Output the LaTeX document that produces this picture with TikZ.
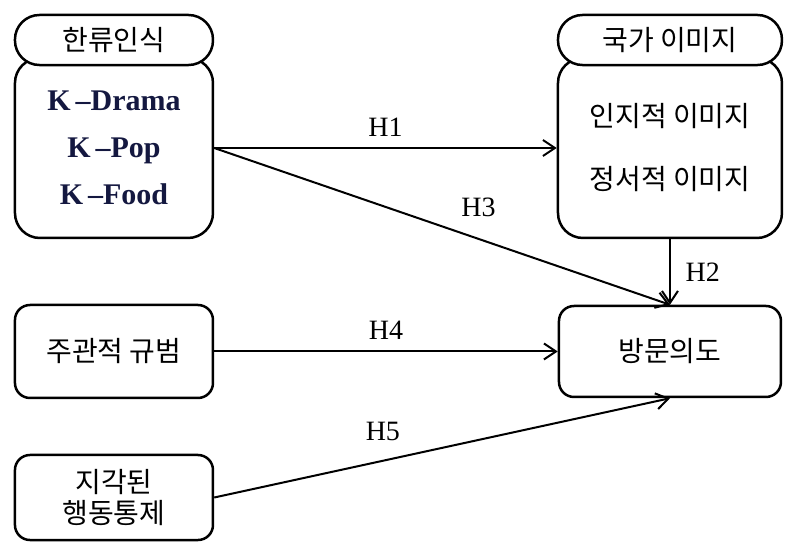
\documentclass[tikz,border=0pt]{standalone}
\usepackage{fontspec}
\setmainfont{Liberation Serif}
\newfontfamily\hangul{Noto Sans CJK KR}
\usepackage{xcolor}
\usetikzlibrary{arrows.meta,positioning}
\definecolor{navytext}{RGB}{20,24,64}

\begin{document}
\begin{tikzpicture}[
    box/.style={rectangle, draw, line width=1.25pt, rounded corners=7.5pt, align=center, font=\hangul\fontsize{14}{17}\selectfont},
    titlecap/.style={box, fill=white, rounded corners=0.43cm, minimum height=0.879cm},
    arrow/.style={-{Straight Barb[length=6pt,width=8pt]}, line width=1pt},
    hlabel/.style={font=\fontsize{14}{16}\selectfont}
]
    \useasboundingbox (0,0) rectangle (13.813,-9.542);

    % Construct bodies
    \node[box, rounded corners=12.5pt, minimum width=3.48cm, minimum height=3.163cm, text=navytext, font=\bfseries\fontsize{15}{23.5}\selectfont] (hallyu) at (2.003,-2.601) {K\,--Drama\\K\,--Pop\\K\,--Food};
    \node[box, rounded corners=12.5pt, minimum width=3.936cm, minimum height=3.163cm, font=\hangul\fontsize{14}{31.5}\selectfont] (image) at (11.774,-2.601) {인지적 이미지\\정서적 이미지};

    % Title capsules on top
    \node[titlecap, minimum width=3.48cm] (hallyucap) at (2.003,-0.703) {한류인식};
    \node[titlecap, minimum width=3.936cm] (imagecap) at (11.774,-0.703) {국가 이미지};

    % Other boxes
    \node[box, minimum width=3.48cm, minimum height=1.634cm] (norm) at (2.003,-6.177) {주관적 규범};
    \node[box, minimum width=3.48cm, minimum height=1.494cm, font=\hangul\fontsize{14}{15.5}\selectfont] (control) at (2.003,-8.743) {지각된\\행동통제};
    \node[box, minimum width=3.901cm, minimum height=1.599cm] (visit) at (11.774,-6.177) {방문의도};

    % Hypotheses
    \draw[arrow] (hallyu.east) -- node[hlabel, above=2pt] {H1} (image.west);
    \draw[arrow] (hallyu.east) -- node[hlabel, pos=0.58, above=7pt] {H3} (visit.north);
    \draw[arrow] (image.south) -- node[hlabel, right=4pt] {H2} (visit.north);
    \draw[arrow] (norm.east) -- node[hlabel, above=2pt] {H4} (visit.west);
    \draw[arrow] (control.east) -- node[hlabel, pos=0.37, above=6pt] {H5} (visit.south);
\end{tikzpicture}
\end{document}
